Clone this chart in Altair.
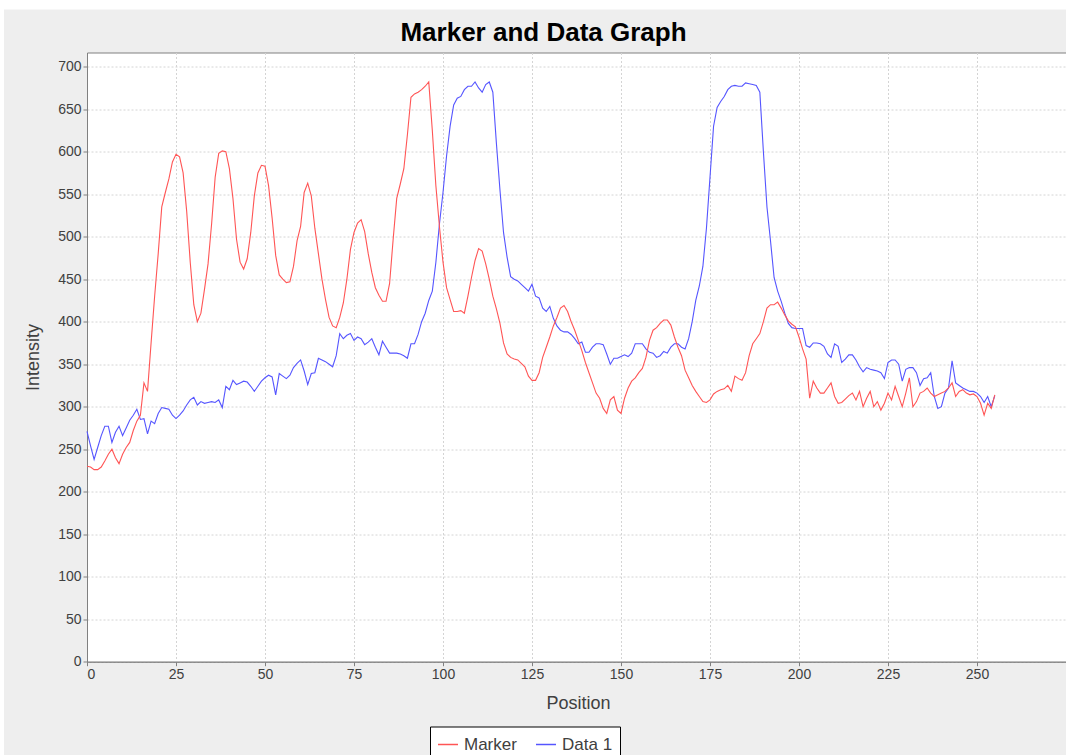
import altair as alt
import pandas as pd

# Intensity profiles along the scan position (0..255)
positions = list(range(256))

marker = [
    230, 229, 226, 226, 229, 236, 244, 250, 240, 233, 244, 252, 258, 272, 283, 290,
    328, 318, 375, 430, 480, 535, 552, 568, 588, 597, 594, 575, 530, 470, 420, 400,
    410, 438, 468, 515, 570, 598, 601, 600, 580, 545, 497, 470, 462, 474, 505, 548,
    575, 584, 583, 560, 522, 478, 455, 450, 446, 447, 465, 495, 512, 552, 563, 548,
    510, 480, 450, 426, 405, 395, 393, 405, 422, 450, 485, 505, 516, 520, 506, 480,
    458, 440, 431, 424, 424, 445, 497, 545, 562, 580, 620, 664, 668, 670, 673, 677,
    682, 625, 560, 512, 470, 440, 426, 412, 412, 413, 410, 430, 452, 472, 486, 483,
    468, 450, 430, 415, 398, 375, 362, 358, 356, 355, 351, 347, 336, 331, 331, 340,
    358, 370, 382, 395, 405, 416, 419, 412, 400, 390, 378, 366, 352, 340, 328, 316,
    310, 298, 292, 308, 312, 296, 292, 310, 322, 330, 334, 340, 345, 358, 378, 390,
    393, 398, 402, 402, 396, 382, 370, 360, 343, 334, 325, 318, 312, 306, 305, 308,
    315, 318, 320, 321, 325, 318, 336, 333, 331, 340, 360, 374, 380, 386, 400, 416,
    420, 420, 423, 416, 408, 401, 397, 394, 382, 368, 356, 310, 330, 322, 316, 316,
    322, 328, 312, 304, 305, 309, 313, 316, 308, 318, 300, 310, 318, 300, 306, 296,
    304, 316, 308, 324, 312, 300, 316, 334, 300, 306, 316, 318, 322, 316, 312, 314,
    316, 318, 322, 328, 312, 318, 320, 316, 314, 315, 312, 304, 290, 304, 298, 314,
]

data1 = [
    271, 254, 238, 252, 266, 277, 277, 258, 270, 277, 266, 275, 284, 290, 297, 285,
    286, 268, 283, 280, 292, 299, 298, 297, 290, 286, 290, 295, 302, 308, 311, 302,
    306, 304, 305, 306, 305, 308, 299, 324, 320, 331, 326, 328, 330, 329, 324, 318,
    324, 330, 334, 337, 335, 314, 339, 336, 333, 337, 346, 351, 355, 342, 326, 339,
    340, 357, 355, 353, 350, 347, 360, 386, 380, 384, 386, 378, 382, 380, 373, 376,
    380, 370, 361, 377, 370, 363, 363, 363, 362, 360, 357, 374, 374, 385, 400, 410,
    425, 436, 470, 515, 552, 595, 630, 655, 663, 665, 673, 677, 677, 682, 675, 670,
    679, 682, 670, 610, 555, 505, 476, 453, 450, 448, 444, 440, 436, 444, 430, 428,
    416, 412, 418, 404, 395, 390, 388, 388, 385, 380, 374, 376, 364, 364, 370, 374,
    374, 373, 362, 350, 357, 357, 359, 361, 359, 363, 374, 374, 374, 368, 364, 363,
    358, 360, 365, 363, 370, 374, 374, 370, 368, 380, 400, 425, 442, 465, 510, 570,
    630, 652, 659, 665, 673, 677, 678, 677, 677, 681, 680, 679, 678, 670, 600, 535,
    495, 452, 436, 424, 410, 398, 393, 392, 392, 392, 372, 370, 375, 375, 374, 371,
    362, 358, 374, 371, 352, 356, 361, 361, 355, 347, 341, 346, 344, 343, 342, 340,
    333, 352, 355, 355, 350, 330, 344, 346, 346, 340, 325, 333, 334, 340, 312, 298,
    300, 316, 322, 354, 328, 325, 322, 320, 318, 318, 316, 312, 305, 312, 300, 313,
]

series_names = ["Marker", "Data 1"]
series_colors = ["#FF5555", "#5555FF"]

x_ticks = list(range(0, 251, 25))
y_ticks = list(range(0, 701, 50))

FONT = "Liberation Sans"
TEXT_GREY = "#404040"
AXIS_GREY = "#808080"
GRID_GREY = "#d4d4d4"

df = pd.concat(
    [
        pd.DataFrame({"Position": positions, "Intensity": marker, "Series": "Marker"}),
        pd.DataFrame({"Position": positions, "Intensity": data1, "Series": "Data 1"}),
    ],
    ignore_index=True,
)

LEFT, TOP = 87, 52.5
W, H = 1066 - LEFT, 609.2

x_enc = alt.X(
    "Position:Q",
    scale=alt.Scale(domain=[0, 275], nice=False, zero=False),
    axis=alt.Axis(
        values=x_ticks, format="d", title="Position",
        titleFont=FONT, titleFontSize=18, titleFontWeight="normal", titleColor=TEXT_GREY,
        titleX=491, titleY=41.3, titleBaseline="middle", titleAlign="center",
        labelFont=FONT, labelFontSize=14, labelColor=TEXT_GREY, labelPadding=2,
        tickSize=4, tickColor=AXIS_GREY, domainColor=AXIS_GREY,
        gridColor=GRID_GREY, gridDash=[2, 2], gridWidth=1,
    ),
)
y_enc = alt.Y(
    "Intensity:Q",
    scale=alt.Scale(domain=[0, 716.7], nice=False, zero=False),
    axis=alt.Axis(
        values=y_ticks, format="d", title="Intensity",
        titleFont=FONT, titleFontSize=18, titleFontWeight="normal", titleColor=TEXT_GREY,
        titleAngle=270, titleX=-54, titleY=H / 2, titleBaseline="middle", titleAlign="center",
        labelFont=FONT, labelFontSize=14, labelColor=TEXT_GREY, labelPadding=2,
        tickSize=4, tickColor=AXIS_GREY, domainColor=AXIS_GREY,
        gridColor=GRID_GREY, gridDash=[2, 2], gridWidth=1,
    ),
)
color_enc = alt.Color(
    "Series:N",
    scale=alt.Scale(domain=series_names, range=series_colors),
    legend=alt.Legend(
        title=None, orient="none", legendX=343, legendY=674, direction="horizontal",
        strokeColor="black", fillColor="white", padding=7,
        symbolType="stroke", symbolSize=400, symbolStrokeWidth=1.5,
        labelFont=FONT, labelFontSize=17, labelColor=TEXT_GREY,
        labelOffset=5, columnPadding=16,
    ),
)

one = pd.DataFrame({"k": [0]})
# thin white page margin along the top and left of the grey chart panel
top_strip = alt.Chart(one).mark_rect(color="white").encode(
    x=alt.value(-LEFT), x2=alt.value(W + 10), y=alt.value(-TOP), y2=alt.value(-43)
)
left_strip = alt.Chart(one).mark_rect(color="white").encode(
    x=alt.value(-LEFT), x2=alt.value(-LEFT + 4), y=alt.value(-TOP), y2=alt.value(H + 100)
)

# Data 1 underneath, Marker drawn on top
blue = alt.Chart(df).transform_filter(alt.datum.Series == "Data 1").mark_line(
    strokeWidth=1.1
).encode(x=x_enc, y=y_enc, color=color_enc)
red = alt.Chart(df).transform_filter(alt.datum.Series == "Marker").mark_line(
    strokeWidth=1.1
).encode(x=x_enc, y=y_enc, color=color_enc)

chart = alt.layer(top_strip, left_strip, blue, red).properties(
    width=W,
    height=H,
    autosize=alt.AutoSizeParams(type="none"),
    padding={"left": LEFT, "top": TOP, "right": 0, "bottom": 755 - TOP - H},
    title=alt.TitleParams(
        "Marker and Data Graph", font=FONT, fontSize=26, fontWeight="bold",
        color="black", anchor="middle", offset=8, dx=-33, dy=53.5,
    ),
).configure(
    background="#EEEEEE",
).configure_view(
    fill="white", stroke=AXIS_GREY, strokeWidth=1,
)

chart.save("out.html", embed_options={"renderer": "svg", "actions": False})
